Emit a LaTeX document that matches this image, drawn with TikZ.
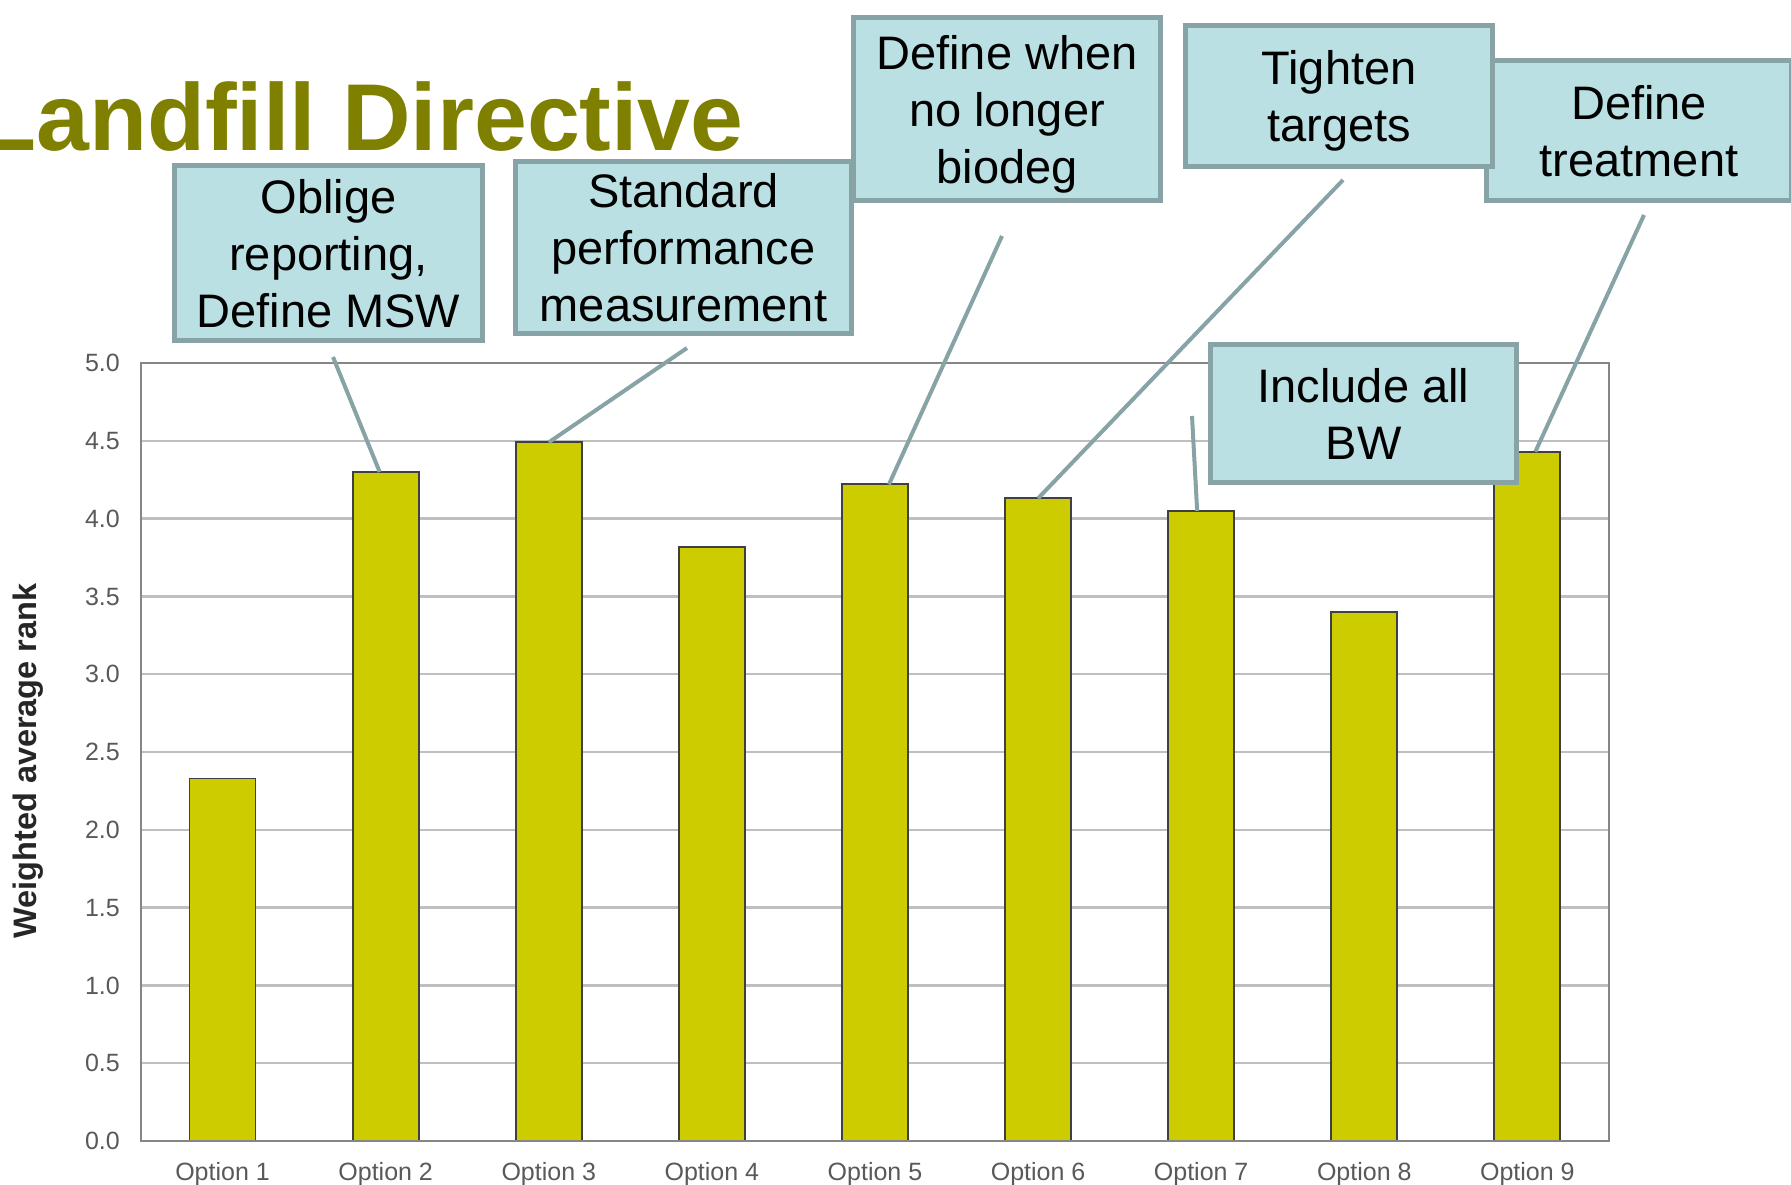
\documentclass[tikz,border=0pt]{standalone}
\usepackage{fontspec}
\setmainfont{Liberation Sans}

\definecolor{titleolive}{RGB}{128,128,0}
\definecolor{barfill}{RGB}{204,204,0}
\definecolor{calloutfill}{RGB}{186,224,227}
\definecolor{calloutline}{RGB}{135,163,166}
\definecolor{gridgray}{RGB}{191,191,191}
\definecolor{axisgray}{RGB}{134,134,134}
\definecolor{labelgray}{RGB}{89,89,89}

\tikzset{
  callout/.style={draw=calloutline, fill=calloutfill, line width=5pt, align=center,
    inner sep=0pt, text depth=0pt, font=\fontsize{47}{57}\selectfont},
  pointer/.style={draw=calloutline, line width=4pt},
  bar/.style={draw=black!75, fill=barfill, line width=1.8pt},
  ticklabel/.style={inner sep=0pt, text=labelgray, font=\fontsize{25}{30}\selectfont}
}

\begin{document}
\begin{tikzpicture}[x=1pt, y=-1pt]
    \useasboundingbox (0,0) rectangle (1791,1185);

    % Title
    \node[anchor=base west, inner sep=0pt, text=titleolive,
      font=\bfseries\fontsize{95}{110}\selectfont] (title) at (-22,151) {Landfill Directive};

    % Grid
    \foreach \v in {0.5,1.0,1.5,2.0,2.5,3.0,3.5,4.0,4.5}
        \draw[gridgray, line width=2.5pt] (141,{1141-155.6*\v}) -- (1609,{1141-155.6*\v});

    % Bars
    \foreach \v [count=\i] in {2.33,4.30,4.49,3.82,4.22,4.13,4.05,3.40,4.43} {
        \draw[bar] ({141+163.1*(\i-0.5)-33},1141) rectangle ({141+163.1*(\i-0.5)+33},{1141-155.6*\v});
        \coordinate (top\i) at ({141+163.1*(\i-0.5)},{1141-155.6*\v});
        \node[ticklabel, anchor=base] (opt\i) at ({141+163.1*(\i-0.5)},1180) {Option \i};
    }

    % Frame
    \draw[axisgray, line width=2.5pt] (141,363) rectangle (1609,1141);

    % Axis
    \foreach \v in {0.0,0.5,1.0,1.5,2.0,2.5,3.0,3.5,4.0,4.5,5.0}
        \node[ticklabel, anchor=east] at (120,{1141-155.6*\v}) {\v};
    \node[rotate=90, anchor=base, text=black!85,
      font=\bfseries\fontsize{32.5}{38}\selectfont] (ylabel) at (36,761) {Weighted average rank};

    % Callouts
    \node[callout, minimum width=308pt, minimum height=175pt] (oblige) at (328.5,253) {Oblige\\reporting,\\Define MSW};
    \node[callout, minimum width=336pt, minimum height=172pt] (standard) at (683.5,247.5) {Standard\\performance\\measurement};
    \node[callout, minimum width=307pt, minimum height=183pt] (biodeg) at (1007,109) {Define when\\no longer\\biodeg};
    \node[callout, minimum width=305pt, minimum height=140pt] (treat) at (1639,130.5) {Define\\treatment};
    \node[callout, minimum width=307pt, minimum height=141pt] (tighten) at (1339,96) {Tighten\\targets};
    \node[callout, minimum width=306pt, minimum height=138pt] (incl) at (1363.5,413.5) {Include all\\BW};

    % Pointers
    \coordinate (fromA) at (333,357);
    \coordinate (fromB) at (687,348);
    \coordinate (fromC) at (1002,236);
    \coordinate (fromD) at (1343,180);
    \coordinate (fromE) at (1644,215);
    \coordinate (fromF) at (1192,416);
    \draw[pointer] (fromA) -- ([xshift=-6pt]top2);
    \draw[pointer] (fromB) -- (top3);
    \draw[pointer] (fromC) -- ([xshift=14pt]top5);
    \draw[pointer] (fromD) -- (top6);
    \draw[pointer] (fromE) -- ([xshift=8pt]top9);
    \draw[pointer] (fromF) -- ([xshift=-4pt]top7);
\end{tikzpicture}
\end{document}
